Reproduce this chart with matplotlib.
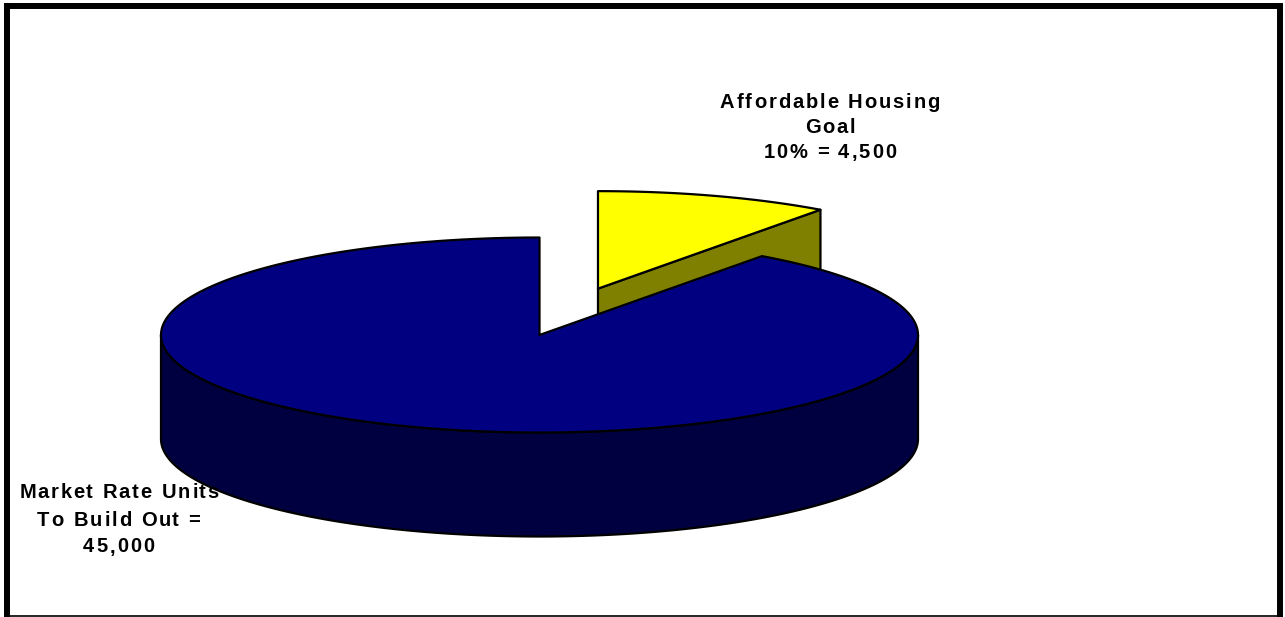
"""
3D 圓餅圖：Affordable Housing Goal vs Market Rate Units
"""

import numpy as np
import matplotlib

matplotlib.use("Agg")
import matplotlib.pyplot as plt
from matplotlib.patches import Polygon
from matplotlib.font_manager import FontProperties, findfont
from matplotlib.ft2font import FT2Font

# 資料（由 12 點鐘方向順時針排列）
categories = ["Affordable Housing Goal", "Market Rate Units To Build Out"]
share_pct = [10, 90]
explode = [0.5, 0.0]
top_colors = ["#FFFF00", "#000080"]
side_colors = ["#808000", "#000040"]
label_lines = [
    ["Affordable Housing", "Goal", "10% = 4,500"],
    ["Market Rate Units", "To Build Out =", "45,000"],
]

# 版面（像素座標）
W, H = 1285, 617
CX, CY = 539.5, 335.0
RX, RY = 378.5, 97.5
DEPTH = 104.0
label_pos = [(829, 108, 25.2), (118, 498.5, 27.0)]  # (中心 x, 第一行基線, 行距)

FS = 14.5
prop = FontProperties(family="Liberation Sans", weight="bold", size=FS)
ft = FT2Font(findfont(prop))
ft.set_size(FS, 100)


def ell(t, ox=0.0, oy=0.0, dz=0.0):
    r = np.radians(t)
    return np.column_stack([CX + ox + RX * np.cos(r), CY + oy - RY * np.sin(r) + dz])


def spaced_text(ax, xc, y, s, track=1.9):
    adv, bear = [], []
    for ch in s:
        g = ft.load_char(ord(ch))
        adv.append(g.linearHoriAdvance / 65536)
        bear.append(g.horiBearingX / 64)
    total = sum(adv) + track * (len(s) - 1)
    x = xc - total / 2
    for ch, a, b in zip(s, adv, bear):
        if ch != " ":
            ax.text(x + b, y, ch, fontproperties=prop, ha="left", va="baseline",
                    color="black", zorder=10)
        x += a + track


fig = plt.figure(figsize=(W / 100, H / 100), dpi=100)
ax = fig.add_axes([0, 0, 1, 1])
ax.set_xlim(0, W)
ax.set_ylim(H, 0)
ax.axis("off")

# 計算每片的角度
total = sum(share_pct)
wedges = []
cum = 0.0
for i, v in enumerate(share_pct):
    t2 = 90 - cum / total * 360
    cum += v
    t1 = 90 - cum / total * 360
    mid = (t1 + t2) / 2
    ox = explode[i] * RX * np.cos(np.radians(mid))
    oy = -explode[i] * RY * np.sin(np.radians(mid))
    wedges.append((i, t1, t2, mid, ox, oy))

# 先畫後方的切片
wedges.sort(key=lambda w: -np.sin(np.radians(w[3])))

edge_kw = dict(edgecolor="black", linewidth=1.6, joinstyle="round")
for i, t1, t2, mid, ox, oy in wedges:
    c = np.array([[CX + ox, CY + oy]])
    # 側面（切面）
    for t, vis in ((t1, np.cos(np.radians(t1)) > 1e-6), (t2, np.cos(np.radians(t2)) < -1e-6)):
        if vis:
            p = ell(np.array([t]), ox, oy)
            poly = np.vstack([c, p, p + [0, DEPTH], c + [0, DEPTH]])
            ax.add_patch(Polygon(poly, closed=True, facecolor=side_colors[i], **edge_kw))
    # 前方弧面
    for lo, hi in ((-180, 0), (180, 360), (-540, -360)):
        a, b = max(t1, lo), min(t2, hi)
        if b > a:
            tt = np.linspace(a, b, 200)
            top = ell(tt, ox, oy)
            bot = ell(tt[::-1], ox, oy, DEPTH)
            ax.add_patch(Polygon(np.vstack([top, bot]), closed=True,
                                 facecolor=side_colors[i], **edge_kw))
    # 頂面
    tt = np.linspace(t1, t2, 300)
    poly = np.vstack([c, ell(tt, ox, oy)])
    ax.add_patch(Polygon(poly, closed=True, facecolor=top_colors[i], **edge_kw))

# 標籤
for i, lines in enumerate(label_lines):
    xc, y0, dy = label_pos[i]
    for k, s in enumerate(lines):
        spaced_text(ax, xc, y0 + k * dy, s)

# 外框
bk = dict(color="black", solid_capstyle="projecting", clip_on=False, zorder=20)
ax.plot([7, 1280], [6, 6], lw=4.3, **bk)
ax.plot([7, 7], [6, 620], lw=4.3, **bk)
ax.plot([1280, 1280], [6, 620], lw=4.3, **bk)
ax.plot([7, 1280], [615.5, 615.5], lw=1.2, color="black", clip_on=False, zorder=20)

fig.savefig("out.png", dpi=100)
plt.close(fig)
